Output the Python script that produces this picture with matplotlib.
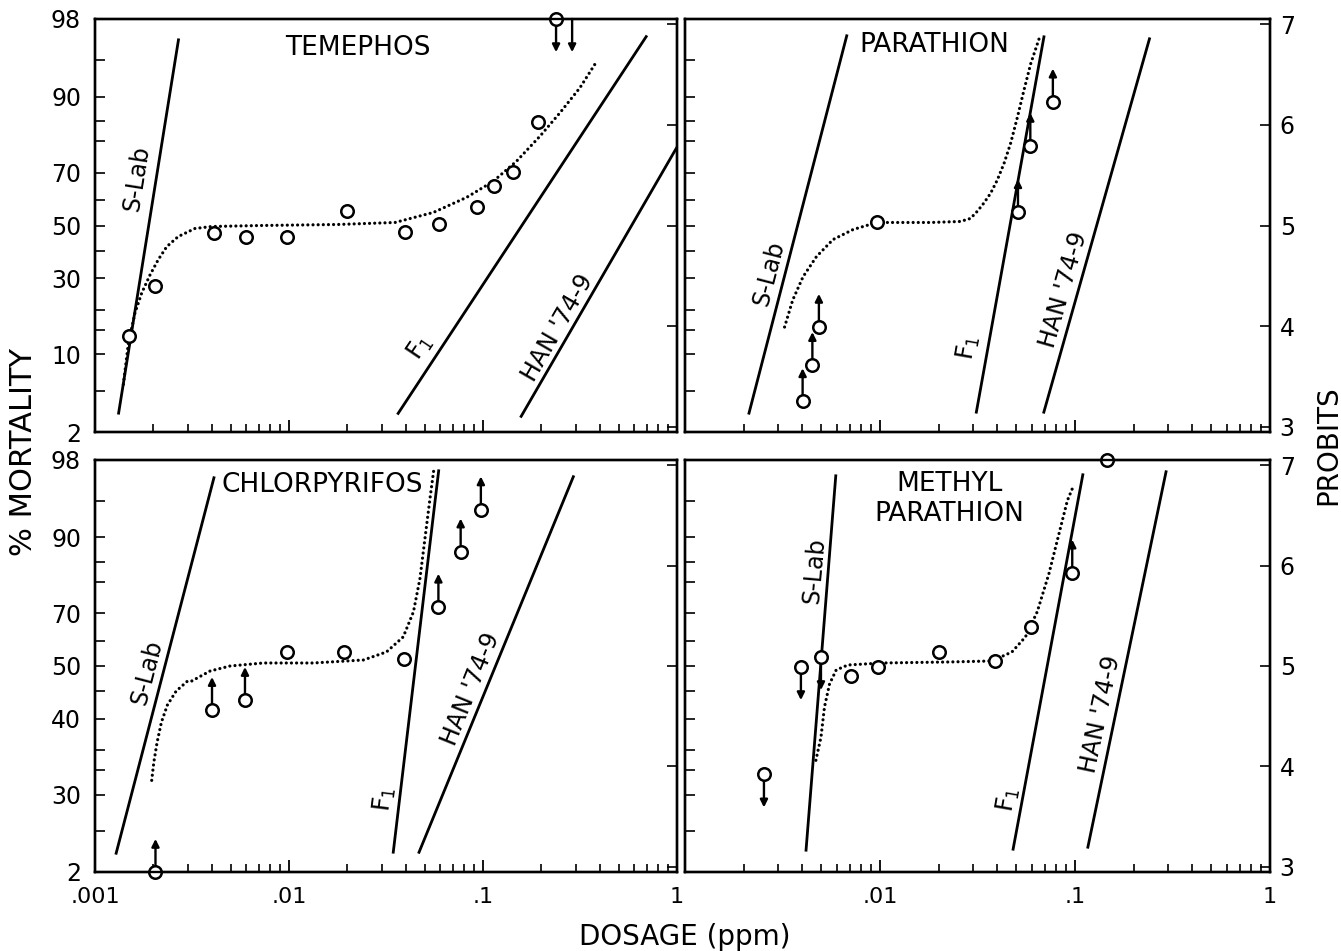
import matplotlib
matplotlib.use("Agg")
import matplotlib.pyplot as plt
from statistics import NormalDist

# ------------------------------------------------------------------ data
pct_major = [98, 90, 70, 50, 30, 10, 2]
pct_minor = [95, 85, 80, 60, 40, 20, 15, 5]
pct_labels_std = ["98", "90", "70", "50", "30", "10", "2"]
pct_labels_chl = ["98", "90", "70", "50", "40", "30", "2"]   # as printed in the original
probit_ticks = [3, 4, 5, 6, 7]
dose_ticks = [0.001, 0.01, 0.1, 1]
dose_labels = [".001", ".01", ".1", "1"]

titles = ["TEMEPHOS", "PARATHION", "CHLORPYRIFOS", "METHYL\nPARATHION"]
line_names = ["S-Lab", r"F$_\mathregular{1}$", "HAN '74-9"]

# --- TEMEPHOS
tem_dose = [0.0015, 0.00205, 0.00412, 0.00603, 0.00977, 0.0199, 0.0396,
            0.0593, 0.0927, 0.114, 0.143, 0.191, 0.238]
tem_probit = [3.90, 4.40, 4.93, 4.89, 4.89, 5.14, 4.94, 5.01, 5.18, 5.39,
              5.53, 6.03, 7.054]
tem_arrow = [0, 0, 0, 0, 0, 0, 0, 0, 0, 0, 0, 0, -1]
tem_arrow_only_dose = [0.288]
tem_arrow_only_probit = [7.054]
tem_arrow_only_dir = [-1]
tem_curve_dose = [0.0014, 0.001486, 0.001607, 0.001742, 0.001923, 0.002118,
                  0.002344, 0.002685, 0.003273, 0.00399, 0.00723, 0.0178,
                  0.0352, 0.0555, 0.0824, 0.113, 0.149, 0.197, 0.249, 0.316,
                  0.385]
tem_curve_probit = [3.42, 3.83, 4.13, 4.33, 4.51, 4.66, 4.79, 4.89, 4.97,
                    4.99, 5.00, 5.01, 5.03, 5.13, 5.28, 5.44, 5.64, 5.89,
                    6.12, 6.37, 6.63]
tem_slab_dose, tem_slab_probit = [0.00132, 0.0027], [3.12, 6.86]
tem_f1_dose, tem_f1_probit = [0.0362, 0.70], [3.12, 6.89]
tem_han_dose, tem_han_probit = [0.156, 1.0], [3.09, 5.78]

# --- PARATHION
par_dose = [0.00401, 0.0045, 0.00486, 0.0096, 0.051, 0.059, 0.077]
par_probit = [3.25, 3.61, 3.99, 5.03, 5.13, 5.79, 6.23]
par_arrow = [1, 1, 1, 0, 1, 1, 1]
par_curve_dose = [0.00324, 0.00357, 0.00403, 0.00472, 0.00574, 0.00728,
                  0.00962, 0.0181, 0.0258, 0.0291, 0.0315, 0.0340, 0.0369,
                  0.0399, 0.0433, 0.0468, 0.0507, 0.0548, 0.0593, 0.0655]
par_curve_probit = [3.99, 4.26, 4.49, 4.69, 4.86, 4.96, 5.03, 5.03, 5.04,
                    5.07, 5.14, 5.22, 5.32, 5.45, 5.62, 5.82, 6.08, 6.35,
                    6.61, 6.86]
par_slab_dose, par_slab_probit = [0.00212, 0.00678], [3.12, 6.90]
par_f1_dose, par_f1_probit = [0.0311, 0.0695], [3.13, 6.89]
par_han_dose, par_han_probit = [0.0689, 0.242], [3.13, 6.87]

# --- CHLORPYRIFOS
chl_dose = [0.00205, 0.00401, 0.00593, 0.00973, 0.0193, 0.0392, 0.0589,
            0.0767, 0.0975]
chl_probit = [2.946, 4.56, 4.66, 5.14, 5.14, 5.07, 5.59, 6.14, 6.56]
chl_arrow = [1, 1, 1, 0, 0, 0, 1, 1, 1]
chl_curve_dose = [0.00196, 0.00201, 0.00209, 0.0022, 0.00236, 0.00262,
                  0.0030, 0.00315, 0.00392, 0.00497, 0.00738, 0.0133,
                  0.0242, 0.0318, 0.0388, 0.0438, 0.0473, 0.0502, 0.0533,
                  0.0558]
chl_curve_probit = [3.86, 4.04, 4.24, 4.44, 4.61, 4.75, 4.85, 4.85, 4.95,
                    5.00, 5.03, 5.03, 5.06, 5.14, 5.29, 5.54, 5.87, 6.27,
                    6.67, 6.96]
chl_slab_dose, chl_slab_probit = [0.00128, 0.00412], [3.12, 6.89]
chl_f1_dose, chl_f1_probit = [0.0344, 0.0592], [3.13, 6.96]
chl_han_dose, chl_han_probit = [0.0465, 0.294], [3.13, 6.90]

# --- METHYL PARATHION
mp_dose = [0.00254, 0.00393, 0.00498, 0.00711, 0.00977, 0.0201, 0.039,
           0.0592, 0.0968, 0.146]
mp_probit = [3.92, 4.99, 5.09, 4.90, 4.99, 5.14, 5.05, 5.39, 5.93, 7.054]
mp_arrow = [-1, -1, -1, 0, 0, 0, 0, 0, 1, 0]
mp_curve_dose = [0.00469, 0.00498, 0.00519, 0.00551, 0.00596, 0.00684,
                 0.0102, 0.0224, 0.0375, 0.0475, 0.0557, 0.0640, 0.0735,
                 0.0828, 0.0914, 0.0989]
mp_curve_probit = [4.06, 4.29, 4.59, 4.82, 4.96, 5.01, 5.03, 5.04, 5.05,
                   5.14, 5.29, 5.54, 5.92, 6.32, 6.65, 6.81]
mp_slab_dose, mp_slab_probit = [0.00417, 0.00594], [3.15, 6.91]
mp_f1_dose, mp_f1_probit = [0.048, 0.110], [3.16, 6.92]
mp_han_dose, mp_han_probit = [0.116, 0.294], [3.18, 6.95]

# ------------------------------------------------------------------ helpers
def probit(pct):
    return 5.0 + NormalDist().inv_cdf(pct / 100.0)

YLIM = (probit(2), probit(98))
ARROW_LEN = 0.33
FONT = "DejaVu Sans"
plt.rcParams["font.family"] = FONT

panels = [
    dict(dose=tem_dose, prob=tem_probit, arrow=tem_arrow,
         aonly=(tem_arrow_only_dose, tem_arrow_only_probit, tem_arrow_only_dir),
         cdose=tem_curve_dose, cprob=tem_curve_probit,
         lines=[(tem_slab_dose, tem_slab_probit), (tem_f1_dose, tem_f1_probit),
                (tem_han_dose, tem_han_probit)],
         title=titles[0], title_xy=(0.0227, 6.77),
         labels=[(0.00164, 5.47, 81), (0.0473, 3.79, 56), (0.244, 3.98, 60)],
         pos=[95, 19, 677, 432], left=True, bottom=False),
    dict(dose=par_dose, prob=par_probit, arrow=par_arrow, aonly=None,
         cdose=par_curve_dose, cprob=par_curve_probit,
         lines=[(par_slab_dose, par_slab_probit), (par_f1_dose, par_f1_probit),
                (par_han_dose, par_han_probit)],
         title=titles[1], title_xy=(0.019, 6.80),
         labels=[(0.00271, 4.53, 75.5), (0.0284, 3.79, 80), (0.0877, 4.36, 74)],
         pos=[685, 19, 1270, 432], left=False, bottom=False),
    dict(dose=chl_dose, prob=chl_probit, arrow=chl_arrow, aonly=None,
         cdose=chl_curve_dose, cprob=chl_curve_probit,
         lines=[(chl_slab_dose, chl_slab_probit), (chl_f1_dose, chl_f1_probit),
                (chl_han_dose, chl_han_probit)],
         title=titles[2], title_xy=(0.0148, 6.80),
         labels=[(0.00185, 4.94, 75.5), (0.0309, 3.67, 83), (0.0867, 4.77, 68)],
         pos=[95, 460, 677, 872], left=True, bottom=True),
    dict(dose=mp_dose, prob=mp_probit, arrow=mp_arrow, aonly=None,
         cdose=mp_curve_dose, cprob=mp_curve_probit,
         lines=[(mp_slab_dose, mp_slab_probit), (mp_f1_dose, mp_f1_probit),
                (mp_han_dose, mp_han_probit)],
         title=titles[3], title_xy=(0.0227, 6.66),
         labels=[(0.00462, 5.95, 85), (0.0452, 3.67, 80), (0.1346, 4.52, 78)],
         pos=[685, 460, 1270, 872], left=False, bottom=True),
]

W, H = 1341, 951
fig = plt.figure(figsize=(W / 100, H / 100), dpi=100)

for i, p in enumerate(panels):
    x0, y0, x1, y1 = p["pos"]
    ax = fig.add_axes([x0 / W, 1 - y1 / H, (x1 - x0) / W, (y1 - y0) / H])
    ax.set_xscale("log")
    ax.set_xlim(0.001, 1)
    ax.set_ylim(*YLIM)
    for s in ax.spines.values():
        s.set_linewidth(1.7)

    # x ticks
    if p["bottom"]:
        labs = list(dose_labels) if p["left"] else [""] + dose_labels[1:]
    else:
        labs = [""] * len(dose_ticks)
    ax.set_xticks(dose_ticks, labs)
    ax.tick_params(axis="x", which="major", direction="in", length=9, width=1.3,
                   labelsize=16, pad=11, top=False)
    ax.tick_params(axis="x", which="minor", direction="in", length=6, width=1.2,
                   top=False)

    # left percent ticks
    ylabs = pct_labels_chl if i == 2 else pct_labels_std
    ax.set_yticks([probit(v) for v in pct_major],
                  ylabs if p["left"] else [""] * len(pct_major))
    ax.set_yticks([probit(v) for v in pct_minor], minor=True)
    ax.tick_params(axis="y", which="both", direction="in", length=7, width=1.2,
                   labelsize=17, pad=10, right=False)

    # right probit ticks
    ax2 = ax.twinx()
    ax2.set_ylim(*YLIM)
    ax2.set_yticks(probit_ticks,
                   [str(v) for v in probit_ticks] if not p["left"] else [""] * 5)
    ax2.tick_params(axis="y", direction="in", length=7, width=1.2,
                    labelsize=17, pad=7)
    for s in ax2.spines.values():
        s.set_linewidth(1.7)

    # lines
    for (ld, lp) in p["lines"]:
        ax.plot(ld, lp, color="black", lw=2.0, solid_capstyle="butt", zorder=3)
    # dotted curve
    ax.plot(p["cdose"], p["cprob"], color="black", lw=2.3,
            ls=(0, (0.01, 1.6)), dash_capstyle="round", zorder=3)
    # circles
    ax.plot(p["dose"], p["prob"], "o", ms=9, mfc="white", mec="black",
            mew=1.8, clip_on=False, zorder=6)
    # arrows
    for d, pr, a in zip(p["dose"], p["prob"], p["arrow"]):
        if a:
            ax.annotate("", xy=(d, pr + a * ARROW_LEN), xytext=(d, pr),
                        arrowprops=dict(arrowstyle="-|>", color="black", lw=1.7,
                                        shrinkA=4.5, shrinkB=0,
                                        mutation_scale=11),
                        annotation_clip=False, zorder=5)
    if p["aonly"]:
        for d, pr, a in zip(*p["aonly"]):
            ax.annotate("", xy=(d, pr + a * ARROW_LEN), xytext=(d, pr),
                        arrowprops=dict(arrowstyle="-|>", color="black", lw=1.7,
                                        shrinkA=0, shrinkB=0,
                                        mutation_scale=11),
                        annotation_clip=False, zorder=5)

    # title
    ax.text(*p["title_xy"], p["title"], fontsize=19, ha="center", va="center",
            linespacing=1.2, zorder=7)
    # line labels
    for (lx, ly, rot), name in zip(p["labels"], line_names):
        ax.text(lx, ly, name, fontsize=17, rotation=rot, rotation_mode="anchor",
                ha="center", va="center", zorder=7)

fig.text(24 / W, 1 - 452 / H, "% MORTALITY", rotation=90, fontsize=22,
         ha="center", va="center")
fig.text(1328 / W, 1 - 445 / H, "PROBITS", rotation=90, fontsize=20,
         ha="center", va="center")
fig.text(685 / W, 1 - 937 / H, "DOSAGE (ppm)", fontsize=20,
         ha="center", va="center")

fig.savefig("out.png", dpi=100, facecolor="white")
